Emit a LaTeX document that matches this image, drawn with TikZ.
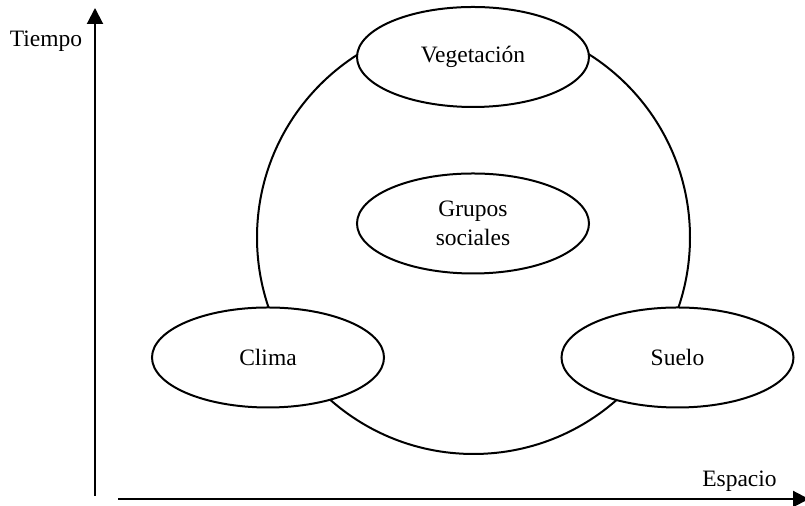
\documentclass[tikz,border=0pt]{standalone}
\usepackage{fontspec}
\setmainfont{Liberation Serif}
\usetikzlibrary{shapes.geometric,arrows.meta}
\begin{document}
\begin{tikzpicture}[x=0.5pt,y=-0.5pt,
  oval/.style={ellipse,draw,line width=1pt,fill=white,inner sep=0pt,
    minimum width=116pt,minimum height=50pt,
    font=\fontsize{11.75}{14.5}\selectfont,align=center},
  axisline/.style={line width=1pt,-{Triangle[length=8pt,width=8pt]}},
  lbl/.style={font=\fontsize{11.75}{14.5}\selectfont,inner sep=0pt}]
\useasboundingbox (0,0) rectangle (805,506);
\coordinate (ybot) at (95,496);
\coordinate (ytop) at (95,8);
\coordinate (xleft) at (118,499);
\coordinate (xright) at (809,499);
\draw[axisline] (ybot) -- (ytop);
\draw[axisline] (xleft) -- (xright);
\node[lbl,anchor=base] (tiempo) at (46,47) {Tiempo};
\node[lbl,anchor=base] (espacio) at (739.5,487) {Espacio};
\coordinate (c) at (473.5,237.5);
\draw[line width=1pt] (c) circle[radius=108.25pt];
\node[oval] (veg) at (473,57) {Vegetación};
\node[oval] (grupos) at (473,223.5) {Grupos\\sociales};
\node[oval] (clima) at (268,357.5) {Clima};
\node[oval] (suelo) at (677.5,357.5) {Suelo};
\end{tikzpicture}
\end{document}
